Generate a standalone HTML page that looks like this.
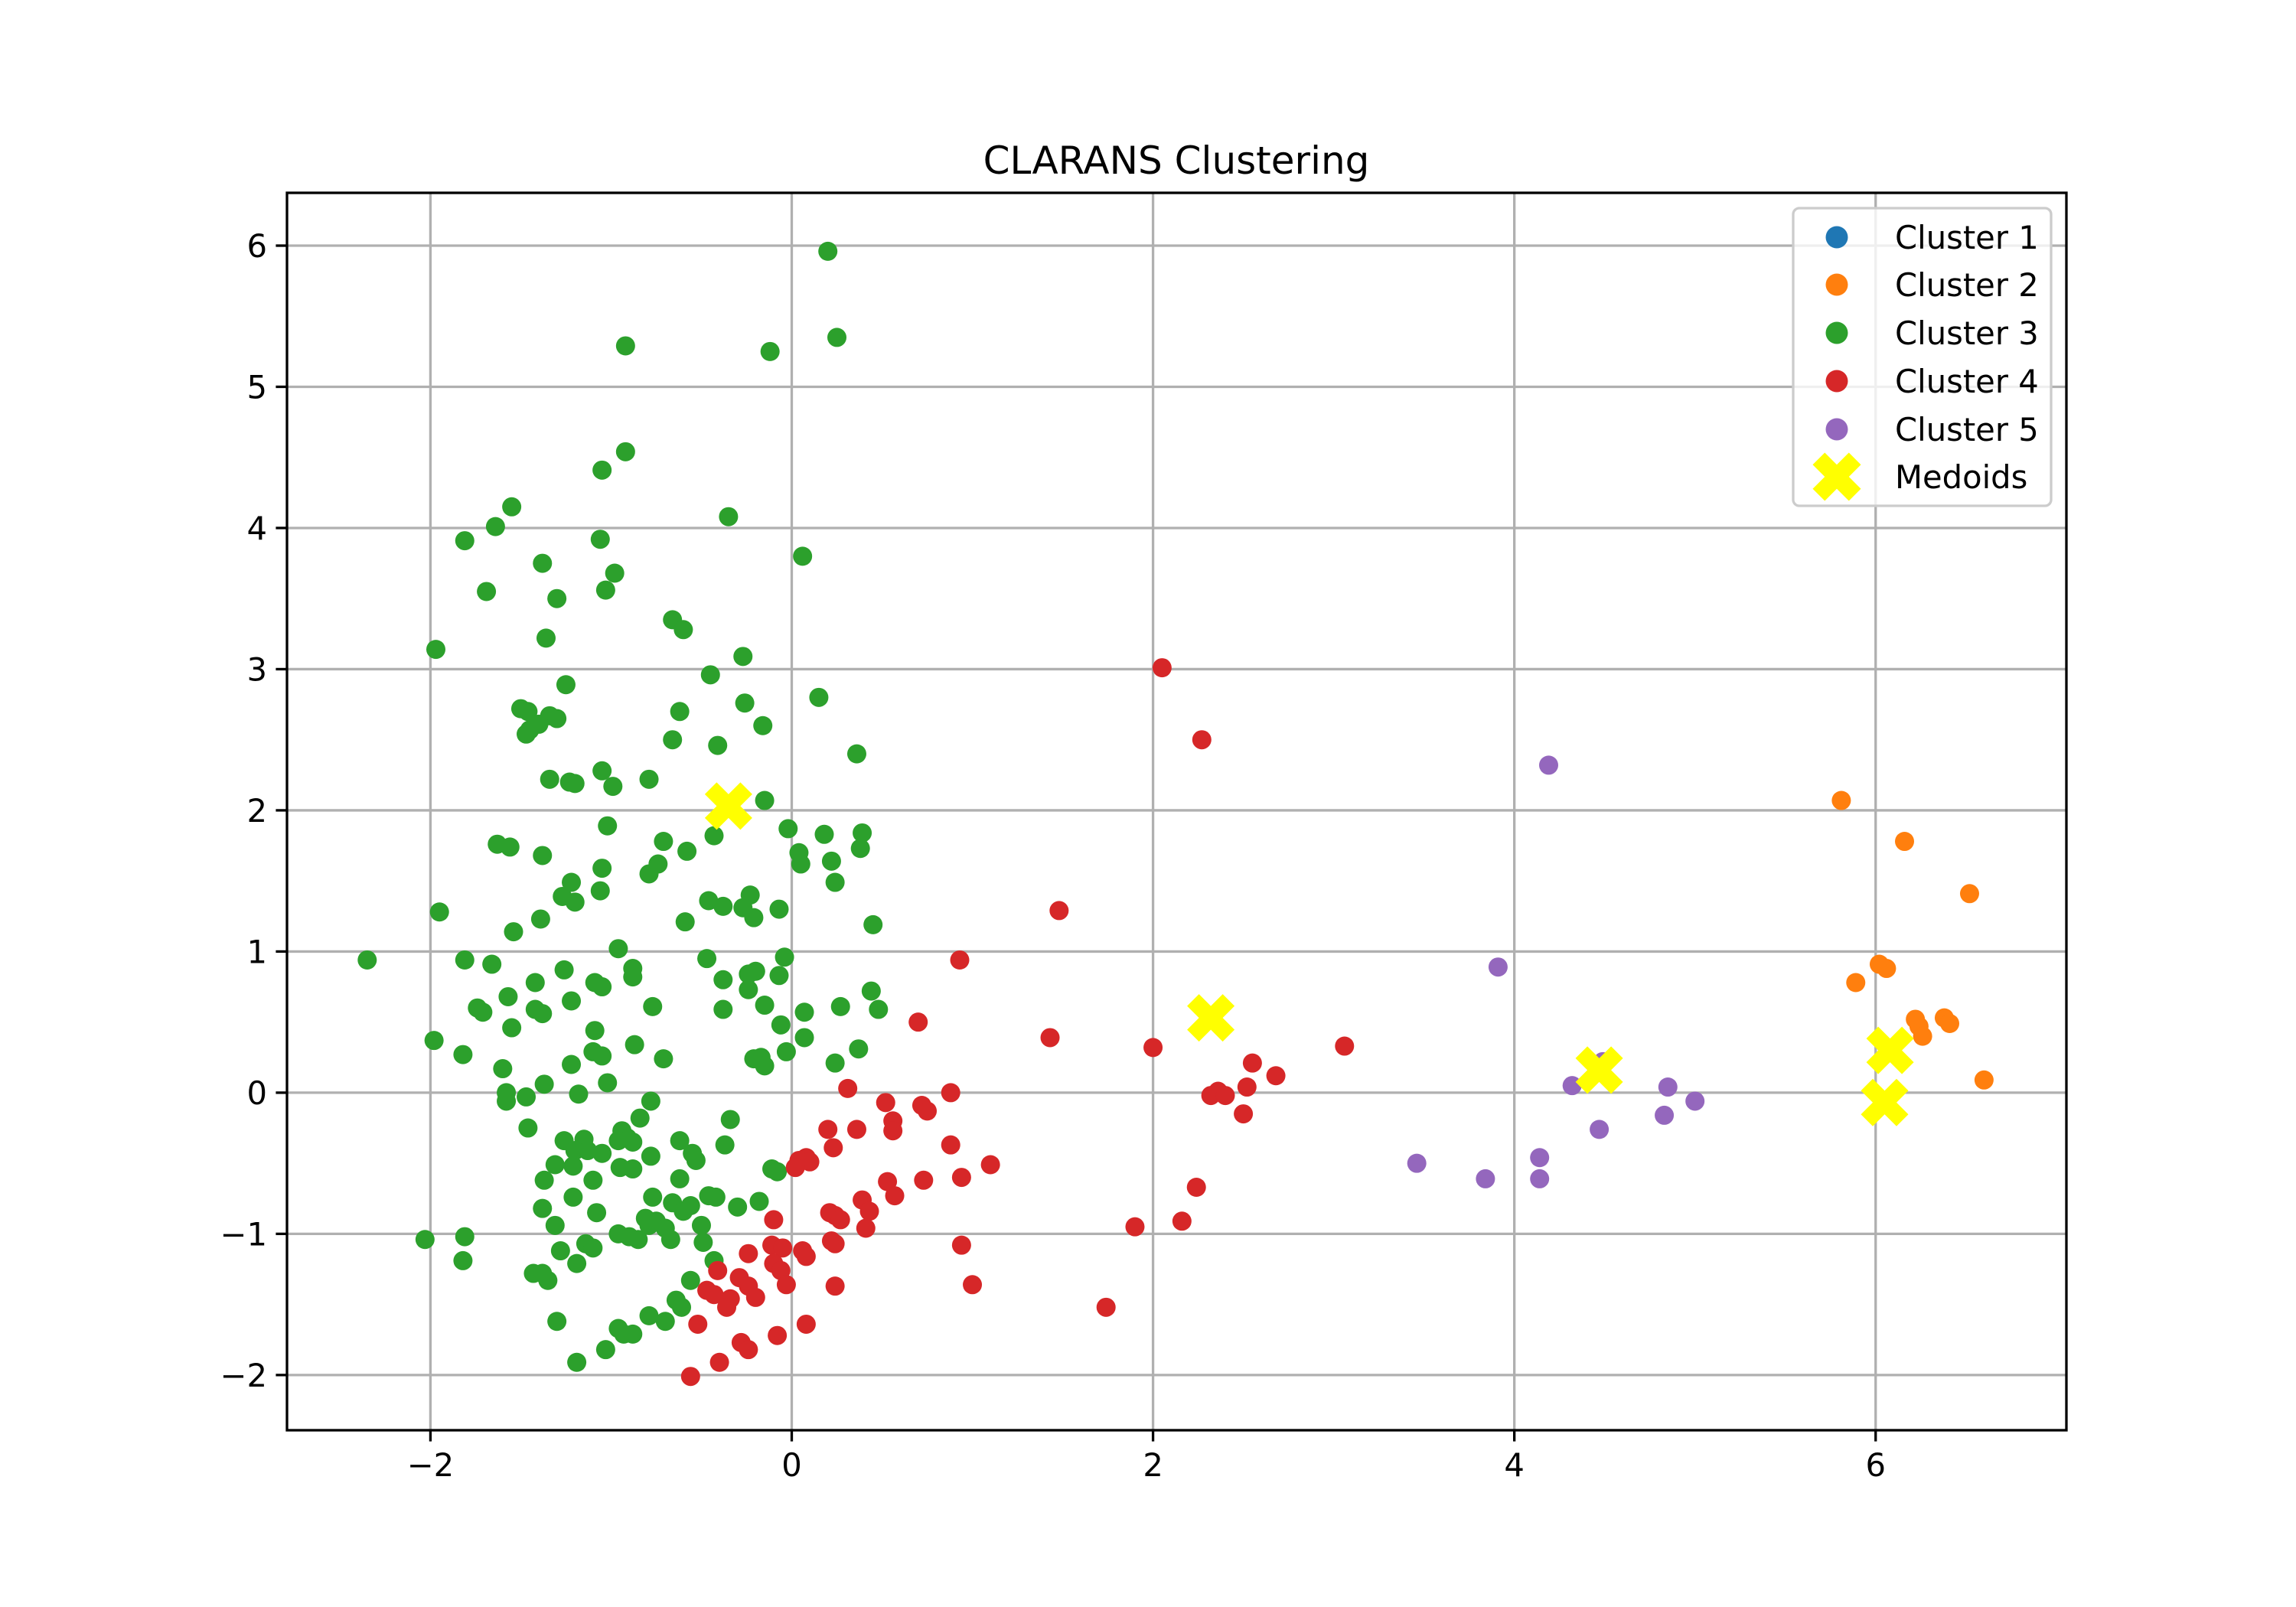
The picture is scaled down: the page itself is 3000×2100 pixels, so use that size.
<!DOCTYPE html>
<html><head><meta charset="utf-8"><style>
html,body{margin:0;padding:0;background:#fff}
svg{display:block}
text{font-family:"DejaVu Sans","Liberation Sans",sans-serif;fill:#000}
</style></head><body>
<svg id="chart" width="3000" height="2100" viewBox="0 0 3000 2100" xmlns="http://www.w3.org/2000/svg">
<rect width="3000" height="2100" fill="#fff"/>
<text x="1537" y="227" font-size="50" text-anchor="middle">CLARANS Clustering</text>
<g id="grid"></g>
<g id="pts"></g>
<g id="axes"></g>
<g id="legend"></g>
</svg>
<script>
const xTicks=[-2,0,2,4,6];
const yTicks=[-2,-1,0,1,2,3,4,5,6];
const clusterNames=["Cluster 1","Cluster 2","Cluster 3","Cluster 4","Cluster 5","Medoids"];
const clusterColors=["#1f77b4","#ff7f0e","#2ca02c","#d62728","#9467bd"];
const cluster1=[];
const cluster2=[[5.81,2.07],[6.16,1.78],[6.52,1.41],[6.02,0.91],[6.06,0.88],[5.89,0.78],[6.22,0.52],[6.38,0.53],[6.41,0.49],[6.24,0.47],[6.26,0.40],[6.60,0.09]];
const cluster3=[[0.20,5.96],[0.25,5.35],[-0.92,5.29],[-0.12,5.25],[-0.92,4.54],[-1.05,4.41],[-1.55,4.15],[-1.64,4.01],[-1.81,3.91],[-0.35,4.08],[0.06,3.80],[-1.38,3.75],[-0.98,3.68],[-1.06,3.92],[-1.69,3.55],[-1.03,3.56],[-1.30,3.50],[-0.66,3.35],[-0.60,3.28],[-1.36,3.22],[-1.97,3.14],[-0.27,3.09],[-0.45,2.96],[-1.25,2.89],[0.15,2.80],[-0.26,2.76],[-1.50,2.72],[-1.46,2.70],[-0.62,2.70],[-1.34,2.67],[-1.30,2.65],[-1.40,2.61],[-0.16,2.60],[-1.45,2.57],[-1.47,2.54],[-0.66,2.50],[-0.41,2.46],[0.36,2.40],[-1.05,2.28],[-1.34,2.22],[-1.23,2.20],[-1.20,2.19],[-0.79,2.22],[-0.99,2.17],[-0.15,2.07],[-0.02,1.87],[-1.02,1.89],[-0.43,1.82],[0.18,1.83],[0.39,1.84],[-0.71,1.78],[-1.63,1.76],[-1.56,1.74],[-0.58,1.71],[0.38,1.73],[0.04,1.70],[-1.38,1.68],[0.22,1.64],[0.05,1.62],[-0.74,1.62],[-1.05,1.59],[-0.79,1.55],[-1.22,1.49],[0.24,1.49],[-1.06,1.43],[-0.23,1.40],[-0.46,1.36],[-1.27,1.39],[-1.20,1.35],[-0.38,1.32],[-0.07,1.30],[-0.27,1.31],[-1.95,1.28],[-0.21,1.24],[-1.39,1.23],[-0.59,1.21],[0.45,1.19],[-1.54,1.14],[-0.96,1.02],[-0.04,0.96],[-2.35,0.94],[-1.81,0.94],[-0.47,0.95],[-1.66,0.91],[-0.88,0.88],[-1.26,0.87],[-0.20,0.86],[-0.24,0.84],[-0.07,0.83],[-0.88,0.82],[-0.38,0.80],[-1.09,0.78],[-1.42,0.78],[-1.05,0.75],[-0.24,0.73],[0.44,0.72],[-1.57,0.68],[-1.22,0.65],[-0.15,0.62],[-0.77,0.61],[-1.74,0.60],[0.27,0.61],[-0.38,0.59],[0.48,0.59],[-1.71,0.57],[0.07,0.57],[-1.42,0.59],[-1.38,0.56],[-0.06,0.48],[-1.55,0.46],[-1.09,0.44],[0.07,0.39],[-1.98,0.37],[-0.87,0.34],[0.37,0.31],[-1.10,0.29],[-0.03,0.29],[-1.82,0.27],[-1.05,0.26],[-0.17,0.25],[-0.21,0.24],[-0.71,0.24],[0.24,0.21],[-1.22,0.20],[-0.15,0.19],[-1.60,0.17],[-1.02,0.07],[-1.37,0.06],[-1.58,0.00],[-1.18,-0.01],[-1.58,-0.06],[-1.47,-0.03],[-0.78,-0.06],[-0.84,-0.18],[-0.34,-0.19],[-1.46,-0.25],[-0.94,-0.27],[-0.91,-0.32],[-0.96,-0.34],[-1.26,-0.34],[-0.62,-0.34],[-1.15,-0.33],[-0.88,-0.35],[-1.20,-0.41],[-1.13,-0.41],[-1.05,-0.43],[-0.55,-0.43],[-0.37,-0.37],[-0.78,-0.45],[-0.53,-0.48],[-1.31,-0.51],[-1.21,-0.52],[-0.95,-0.53],[-0.88,-0.54],[-0.11,-0.54],[-0.08,-0.56],[-1.37,-0.62],[-1.10,-0.62],[-0.62,-0.61],[-1.21,-0.74],[-0.77,-0.74],[-0.46,-0.73],[-0.42,-0.74],[-0.18,-0.77],[-0.30,-0.81],[-0.66,-0.78],[-0.60,-0.84],[-1.38,-0.82],[-1.08,-0.85],[-0.56,-0.80],[-0.81,-0.89],[-0.79,-0.94],[-0.75,-0.91],[-1.31,-0.94],[-0.50,-0.94],[-0.96,-1.00],[-0.70,-0.96],[-0.90,-1.02],[-0.67,-1.04],[-2.03,-1.04],[-1.81,-1.02],[-0.85,-1.04],[-0.49,-1.06],[-1.14,-1.07],[-1.10,-1.10],[-1.28,-1.12],[-1.19,-1.21],[-1.82,-1.19],[-0.43,-1.19],[-1.43,-1.28],[-1.38,-1.28],[-1.35,-1.33],[-0.56,-1.33],[-0.64,-1.47],[-0.61,-1.52],[-0.79,-1.58],[-1.30,-1.62],[-0.70,-1.62],[-0.96,-1.67],[-0.88,-1.71],[-0.93,-1.71],[-1.03,-1.82],[-1.19,-1.91]];
const cluster4=[[2.05,3.01],[2.27,2.50],[1.48,1.29],[0.93,0.94],[0.70,0.50],[1.43,0.39],[2.00,0.32],[3.06,0.33],[2.55,0.21],[2.68,0.12],[2.52,0.04],[2.36,0.01],[2.32,-0.02],[2.40,-0.02],[2.50,-0.15],[0.31,0.03],[0.88,0.00],[0.52,-0.07],[0.72,-0.09],[0.75,-0.13],[0.56,-0.20],[0.56,-0.27],[0.36,-0.26],[0.20,-0.26],[0.88,-0.37],[0.23,-0.39],[0.08,-0.46],[0.04,-0.48],[0.10,-0.49],[0.02,-0.53],[1.10,-0.51],[0.53,-0.63],[0.57,-0.73],[0.73,-0.62],[0.94,-0.60],[0.39,-0.76],[0.43,-0.84],[0.24,-0.87],[0.21,-0.85],[0.27,-0.90],[-0.10,-0.90],[0.41,-0.96],[2.24,-0.67],[2.16,-0.91],[1.90,-0.95],[0.22,-1.05],[0.24,-1.07],[-0.11,-1.08],[-0.05,-1.10],[0.06,-1.12],[0.08,-1.16],[0.94,-1.08],[-0.24,-1.14],[-0.10,-1.21],[-0.41,-1.26],[-0.06,-1.26],[-0.29,-1.31],[-0.03,-1.36],[1.00,-1.36],[0.24,-1.37],[-0.47,-1.40],[-0.24,-1.37],[-0.43,-1.43],[-0.20,-1.45],[-0.34,-1.46],[-0.36,-1.52],[1.74,-1.52],[-0.52,-1.64],[0.08,-1.64],[-0.08,-1.72],[-0.28,-1.77],[-0.24,-1.82],[-0.40,-1.91],[-0.56,-2.01]];
const cluster5=[[4.19,2.32],[3.91,0.89],[4.32,0.05],[4.49,0.22],[4.85,0.04],[5.00,-0.06],[4.83,-0.16],[4.47,-0.26],[4.14,-0.46],[3.46,-0.50],[3.84,-0.61],[4.14,-0.61]];
const medoids=[[-0.35,2.03],[2.32,0.53],[4.47,0.16],[6.08,0.30],[6.05,-0.07]];

const NS="http://www.w3.org/2000/svg";
const L=375,R=2700,T=252,B=1869;
const xMin=-2.794,xMax=7.056,yMin=-2.391,yMax=6.374;
function sx(v){return L+(v-xMin)/(xMax-xMin)*(R-L);}
function sy(v){return B-(v-yMin)/(yMax-yMin)*(B-T);}
function mk(tag,attrs,parent){const e=document.createElementNS(NS,tag);for(const k in attrs)e.setAttribute(k,attrs[k]);parent.appendChild(e);return e;}
function xPath(cx,cy,s){const a=s*0.5,b=s*0.25;
 const p=[[-a+b,-a],[0,-b],[a-b,-a],[a,-a+b],[b,0],[a,a-b],[a-b,a],[0,b],[-a+b,a],[-a,a-b],[-b,0],[-a,-a+b]];
 return "M"+p.map(q=>(cx+q[0]).toFixed(1)+","+(cy+q[1]).toFixed(1)).join("L")+"Z";}
const grid=document.getElementById('grid'),axes=document.getElementById('axes'),pts=document.getElementById('pts'),leg=document.getElementById('legend');
xTicks.forEach(t=>{const x=sx(t);
 const g=mk('line',{x1:x,x2:x,y1:T,y2:B,stroke:'#b0b0b0','stroke-width':3.3},grid);
 
 
 const tk=mk('line',{x1:x,x2:x,y1:B,y2:B+14.6,stroke:'#000','stroke-width':3.3},axes);
 
 
 const tx=mk('text',{x:x,y:B+60,'font-size':41.7,'text-anchor':'middle'},axes);
 tx.textContent=(t<0?'\u2212':'')+Math.abs(t);
 
 });
yTicks.forEach(t=>{const y=sy(t);
 const g=mk('line',{x1:L,x2:R,y1:y,y2:y,stroke:'#b0b0b0','stroke-width':3.3},grid);
 
 
 const tk=mk('line',{x1:L-14.6,x2:L,y1:y,y2:y,stroke:'#000','stroke-width':3.3},axes);
 
 
 const tx=mk('text',{x:L-26,y:y+15,'font-size':41.7,'text-anchor':'end'},axes);
 tx.textContent=(t<0?'\u2212':'')+Math.abs(t);
 
 });
const fr=mk('rect',{x:L,y:T,width:R-L,height:B-T,fill:'none',stroke:'#000','stroke-width':3.3},axes);


[cluster1,cluster2,cluster3,cluster4,cluster5].forEach((arr,i)=>{arr.forEach(p=>{
 const c=mk('circle',{cx:sx(p[0]),cy:sy(p[1]),r:12.5,fill:clusterColors[i]},pts);
 
 });});
medoids.forEach(p=>{const m=mk('path',{d:xPath(sx(p[0]),sy(p[1]),62),fill:'#ffff00'},pts);
 
 });
const lb=mk('rect',{x:2343,y:272,width:337,height:389,rx:8,fill:'#fff','fill-opacity':0.8,stroke:'#cccccc','stroke-width':3.3},leg);


const rows=[310,372,435,498,561,623];
clusterNames.forEach((n,i)=>{const y=rows[i];
 let m;
 if(i<5){m=mk('circle',{cx:2400,cy:y,r:14.5,fill:clusterColors[i]},leg);}
 else{m=mk('path',{d:xPath(2400,y,63),fill:'#ffff00'},leg);}
 
 
 const t=mk('text',{x:2476,y:y+15,'font-size':41.7},leg);
 t.textContent=n;
 
 });
</script>
</body></html>
